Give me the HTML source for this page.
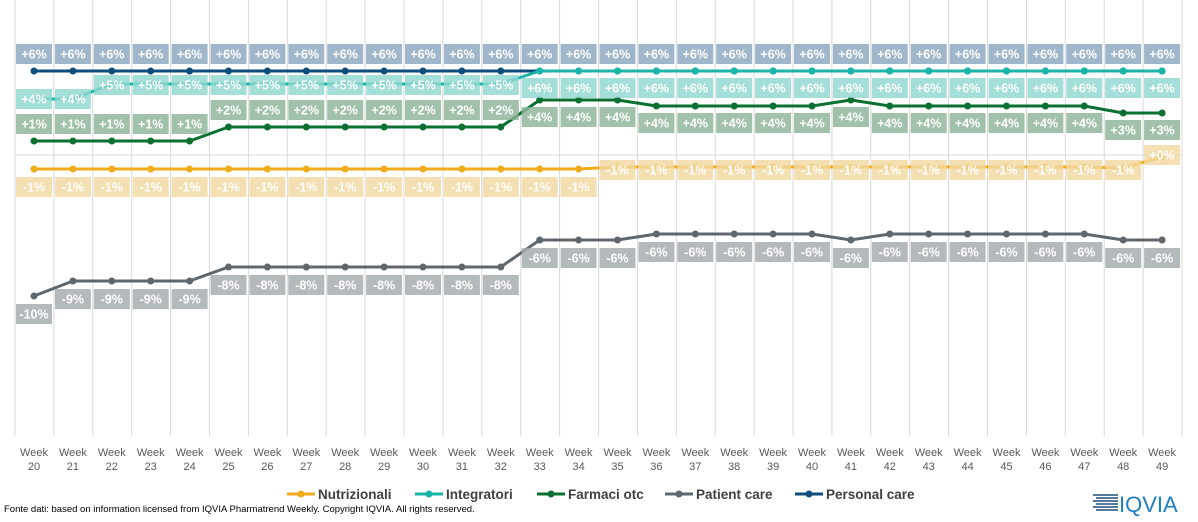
<!DOCTYPE html>
<html><head><meta charset="utf-8"><style>
body{margin:0;background:#fff;width:1198px;height:517px;overflow:hidden;font-family:"Liberation Sans",sans-serif}
</style></head><body>
<svg id="s" width="1198" height="517" xmlns="http://www.w3.org/2000/svg" font-family="Liberation Sans, sans-serif"></svg>
<script>
const s=document.getElementById('s');let h='';
const X=i=>34+38.9*i;
for(let k=0;k<=30;k++){const x=15+38.9*k;h+=`<line x1="${x}" y1="0" x2="${x}" y2="436" stroke="#d9d9d9" stroke-width="1"/>`;}
h+=`<line x1="15" y1="155" x2="1182" y2="155" stroke="#d9d9d9"/>`;
for(let i=0;i<30;i++){h+=`<text x="${X(i)}" y="456" font-size="11" fill="#595959" text-anchor="middle">Week</text><text x="${X(i)}" y="470" font-size="11" fill="#595959" text-anchor="middle">${20+i}</text>`;}
function rep(arr){const o=[];arr.forEach(([n,v])=>{for(let j=0;j<n;j++)o.push(v)});return o;}
const series=[
 {c:'#0d4d7e',lc:'#8ba6be',y:rep([[30,71]]),l:rep([[30,[54,'+6%']]])},
 {c:'#19b5a8',lc:'#8fd7cf',y:rep([[2,99],[11,84],[17,71]]),l:rep([[2,[99,'+4%']],[11,[85,'+5%']],[17,[88,'+6%']]])},
 {c:'#0a7030',lc:'#8db399',y:[141,141,141,141,141,127,127,127,127,127,127,127,127,100,100,100,106,106,106,106,106,100,106,106,106,106,106,106,113,113],l:null},
 {c:'#f0ab1b',lc:'#f0d8a0',y:rep([[15,169],[13,167],[1,168],[1,157]]),l:rep([[15,[187,'-1%']],[14,[170,'-1%']],[1,[155,'+0%']]])},
 {c:'#5f666c',lc:'#a4a9ad',y:[296,281,281,281,281,267,267,267,267,267,267,267,267,240,240,240,234,234,234,234,234,240,234,234,234,234,234,234,240,240],l:null}
];
series[2].l=series[2].y.map((y,i)=>i<13?[y-17,y==141?'+1%':'+2%']:[y+17,i>=28?'+3%':'+4%']);
series[4].l=series[4].y.map((y,i)=>[y+18,y==296?'-10%':y==281?'-9%':y==267?'-8%':'-6%']);
let rects='',texts='',lines='';
series.forEach(sr=>{
 sr.l.forEach(([y,t],i)=>{const x=X(i);rects+=`<rect x="${x-18}" y="${y-10}" width="36" height="20" fill="${sr.lc}" opacity="0.82"/>`;texts+=`<text x="${x}" y="${y+4.5}" font-size="12.5" font-weight="bold" fill="#fff" text-anchor="middle">${t}</text>`;});
 lines+=`<polyline fill="none" stroke="${sr.c}" stroke-width="3" points="${sr.y.map((y,i)=>X(i)+','+y).join(' ')}"/>`;
 sr.y.forEach((y,i)=>lines+=`<circle cx="${X(i)}" cy="${y}" r="3.5" fill="${sr.c}"/>`);
});
h+=lines+rects+texts;
const leg=[['Nutrizionali','#f0ab1b',287],['Integratori','#19b5a8',415],['Farmaci otc','#0a7030',537],['Patient care','#5f666c',665],['Personal care','#0d4d7e',795]];
leg.forEach(([t,c,x])=>{h+=`<line x1="${x}" y1="494" x2="${x+28}" y2="494" stroke="${c}" stroke-width="3"/><circle cx="${x+14}" cy="494" r="3.5" fill="${c}"/><text x="${x+31}" y="499" font-size="13.5" font-weight="bold" fill="#404040">${t}</text>`;});
h+=`<text x="4" y="512" font-size="9.5" fill="#000">Fonte dati: based on information licensed from IQVIA Pharmatrend Weekly. Copyright IQVIA. All rights reserved.</text>`;
for(let k=0;k<6;k++){h+=`<line x1="${1093+(k%2)*3}" y1="${495+k*3}" x2="1118" y2="${495+k*3}" stroke="#1f4e79" stroke-width="1.6"/>`;}
h+=`<text x="1119" y="512" font-size="22" fill="#1e7fc0">IQVIA</text>`;
s.innerHTML=h;
</script>
</body></html>
